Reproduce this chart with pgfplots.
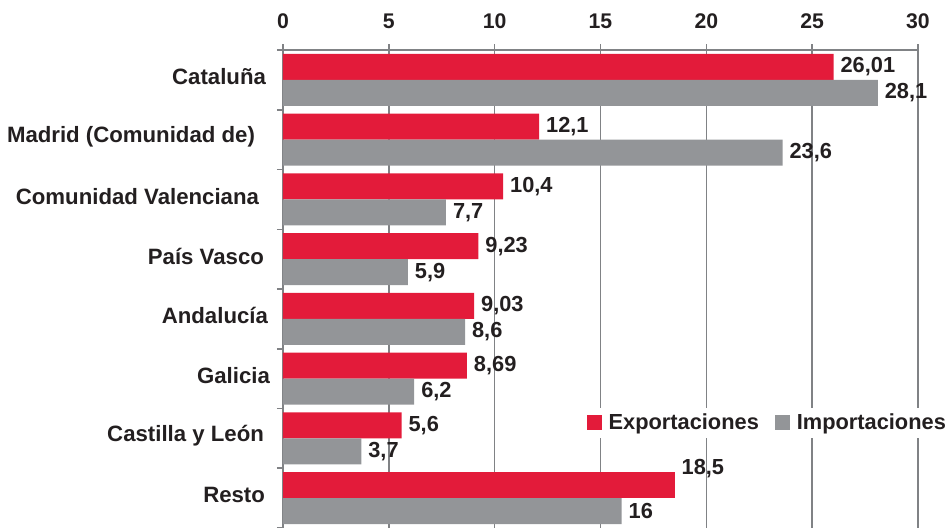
\documentclass[border=0pt]{standalone}
\usepackage{pgfplots}
\pgfplotsset{compat=1.18}
\usepackage{fontspec}
\setmainfont{Liberation Sans}
\definecolor{expred}{HTML}{E31B3A}
\definecolor{impgray}{HTML}{939598}
\definecolor{gridgray}{HTML}{808285}
\definecolor{txt}{HTML}{231F20}
\newcommand{\cfont}{\fontsize{11.1}{13}\selectfont\bfseries}
\newcommand{\vfont}{\fontsize{10.9}{13}\selectfont\bfseries}
\newcommand{\tfont}{\fontsize{10.6}{12}\selectfont\bfseries}
\begin{document}
\begin{tikzpicture}
\begin{axis}[
  name=ax,
  scale only axis, width=317.5pt, height=239pt,
  xbar, bar width=0.435,
  xmin=0, xmax=30, ymin=-0.5, ymax=7.5, y dir=reverse,
  axis x line*=top, axis y line*=left,
  axis line style={gridgray, line width=0.75pt, -},
  xtick={0,5,...,30},
  ytick={-0.5,0.5,...,7.5},
  y tick label as interval,
  yticklabels={Cataluña\kern1pt, Madrid (Comunidad de)\kern6.5pt, Comunidad Valenciana\kern4.5pt, País Vasco\kern2pt, Andalucía, Galicia\kern-1pt, Castilla y León\kern2pt, Resto\kern1.5pt},
  tick align=outside, major tick length=3pt,
  tick style={gridgray, line width=0.75pt},
  xmajorgrids, grid style={gridgray, line width=0.75pt},
  xticklabel style={font=\tfont, text=txt, yshift=4pt},
  yticklabel style={font=\cfont, text=txt, xshift=-1pt, yshift=1.5pt},
  /pgf/number format/use comma,
  /pgf/number format/assume math mode=true,
  /pgf/number format/1000 sep={},
  point meta=x,
  nodes near coords,
  nodes near coords style={font=\vfont, text=txt, anchor=west},
  legend style={at={(1.054,0.2197)}, anchor=east, draw=none, fill=white,
    font=\vfont, text=txt, inner sep=1pt,
    /tikz/every odd column/.append style={column sep=1.5pt},
    /tikz/every even column/.append style={column sep=6pt}},
  legend columns=2,
  legend image code/.code={\fill[#1] (0pt,-3.75pt) rectangle (7.5pt,3.75pt);},
]
\addplot[fill=expred, draw=none, bar shift=-0.2175] coordinates {
 (26.01,0) (12.1,1) (10.4,2) (9.23,3) (9.03,4) (8.69,5) (5.6,6)};
\addlegendentry{Exportaciones}
\addplot[fill=impgray, draw=none, bar shift=0.2175] coordinates {
 (28.1,0) (23.6,1) (7.7,2) (5.9,3) (8.6,4) (6.2,5) (3.7,6) (16,7)};
\addlegendentry{Importaciones}
\addplot[fill=expred, draw=none, bar shift=-0.2175, forget plot,
  nodes near coords style={yshift=8.5pt}] coordinates {(18.5,7)};
\end{axis}
\pgfresetboundingbox
\path (ax.south west) ++(-141.5pt,0pt) rectangle ++(474.5pt,264pt);
\end{tikzpicture}
\end{document}
